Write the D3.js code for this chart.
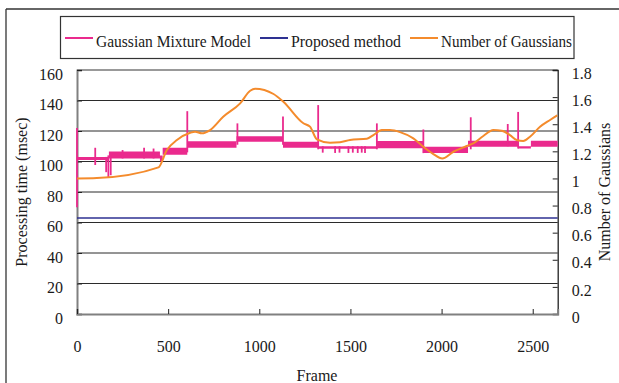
<!DOCTYPE html>
<html>
<head>
<meta charset="utf-8">
<script src="https://cdn.jsdelivr.net/npm/d3@7"></script>
<style>
  html, body { margin: 0; padding: 0; background: #fff; }
  svg { display: block; }
  text { font-family: "Liberation Serif", "Times New Roman", serif; fill: #1a1a1a; }
</style>
</head>
<body>
<svg id="chart" width="619" height="383"></svg>
<script>
// ---------------- data ----------------
const frameMax = 2637;
const xTicks = [0, 500, 1000, 1500, 2000, 2500];
const leftTicks = [0, 20, 40, 60, 80, 100, 120, 140, 160];
const rightTicks = [0, 0.2, 0.4, 0.6, 0.8, 1, 1.2, 1.4, 1.6, 1.8];
const rightTickLabels = ["0", "0.2", "0.4", "0.6", "0.8", "1", "1.2", "1.4", "1.6", "1.8"];

const seriesNames = ["Gaussian Mixture Model", "Proposed method", "Number of Gaussians"];

// Gaussian Mixture Model: processing-time band per block (start frame, min, max)
const gmmFrames = [0, 95, 160, 175, 455, 470, 605, 875, 1130, 1325, 1645, 1900, 2145, 2420, 2490];
const gmmLow    = [101, 101, 100.5, 102, 100, 104.5, 109, 113, 109, 108.3, 108.7, 105.5, 109.7, 108.5, 109.7];
const gmmHigh   = [103, 103, 103, 106.5, 104, 109, 113.3, 116.5, 113, 110, 113.5, 109.7, 113.6, 110, 113.6];
// Gaussian Mixture Model: isolated spikes / dips (frame, min, max)
const spikeFrames = [0, 100, 160, 172, 185, 250, 368, 420, 605, 880, 1130, 1323, 1348, 1416, 1440, 1489, 1513, 1540, 1562, 1580, 1645, 1900, 2160, 2363, 2420];
const spikeLow    = [70, 97.7, 93, 89.5, 91, 102, 102, 102, 106, 111, 111, 108, 105.8, 105.6, 105.8, 105.6, 105.8, 105.6, 105.8, 105.6, 108, 105.5, 108, 110, 108.5];
const spikeHigh   = [122, 109, 103, 104, 104, 107.5, 109, 108.5, 133, 125, 129.5, 137, 110, 110, 110, 110, 110, 110, 110, 110, 125, 121, 129, 124.6, 132.5];

// Proposed method (msec)
const pmFrames = [0, 2637];
const pmValues = [63, 63];

// Number of Gaussians (right axis)
const ngFrames = [0, 109, 447, 493, 548, 621, 648, 685, 730, 802, 895, 950, 977, 1078, 1132, 1242, 1278, 1316, 1388, 1443, 1498, 1590, 1626, 1672, 1717, 1772, 1845, 1900, 1955, 2004, 2065, 2138, 2174, 2229, 2284, 2330, 2375, 2412, 2448, 2485, 2540, 2595, 2635];
const ngValues = [1.0, 1.003, 1.082, 1.21, 1.283, 1.337, 1.345, 1.333, 1.357, 1.455, 1.554, 1.647, 1.662, 1.623, 1.566, 1.407, 1.382, 1.289, 1.264, 1.267, 1.284, 1.293, 1.32, 1.357, 1.357, 1.342, 1.296, 1.234, 1.18, 1.148, 1.197, 1.239, 1.259, 1.313, 1.357, 1.352, 1.32, 1.283, 1.276, 1.308, 1.381, 1.431, 1.465];

// ---------------- drawing ----------------
const colors = { gmm: "#EA2A8D", pm: "#2E3192", ng: "#F48B2C" };
const svg = d3.select("#chart");

const x = d3.scaleLinear().domain([0, frameMax]).range([77, 557.7]);
const yL = d3.scaleLinear().domain([0, 160]).range([314, 70]);
const yR = d3.scaleLinear().domain([0, 1.8]).range([314, 70]);

// outer frame (top and left edges visible)
svg.append("line").attr("x1", 6).attr("x2", 619).attr("y1", 9).attr("y2", 9)
  .attr("stroke", "#333").attr("stroke-width", 1.3);
svg.append("line").attr("x1", 6).attr("x2", 6).attr("y1", 9).attr("y2", 383)
  .attr("stroke", "#333").attr("stroke-width", 1.3);

// gridlines
svg.append("g").selectAll("line").data(leftTicks.filter(d => d > 0)).join("line")
  .attr("x1", x(0)).attr("x2", x(frameMax))
  .attr("y1", d => yL(d)).attr("y2", d => yL(d))
  .attr("stroke", d => d === 160 ? "#777" : "#2b2b2b")
  .attr("stroke-width", d => d === 160 ? 1.6 : 1);

// left axis
const gL = svg.append("g").attr("transform", `translate(${x(0)},0)`)
  .call(d3.axisLeft(yL).tickValues(leftTicks).tickSize(-5).tickPadding(14).tickFormat(d3.format("d")));
gL.select(".domain").attr("stroke", "#808080").attr("stroke-width", 2);
gL.selectAll(".tick line").attr("stroke", "#222");
gL.selectAll("text").attr("font-size", 16).attr("y", 4).style("font-family", "Liberation Serif, serif").attr("fill", "#1a1a1a");

// right axis
const gR = svg.append("g").attr("transform", `translate(${x(frameMax)},0)`)
  .call(d3.axisRight(yR).tickValues(rightTicks).tickSize(-5).tickPadding(14).tickFormat((d, i) => rightTickLabels[i]));
gR.select(".domain").attr("stroke", "#222").attr("stroke-width", 1.3);
gR.selectAll(".tick line").attr("stroke", "#222");
gR.selectAll("text").attr("font-size", 16).attr("y", 3).style("font-family", "Liberation Serif, serif").attr("fill", "#1a1a1a");

// bottom axis
const gB = svg.append("g").attr("transform", `translate(0,${yL(0)})`)
  .call(d3.axisBottom(x).tickValues(xTicks).tickSize(-5).tickPadding(27).tickFormat(d3.format("d")));
gB.select(".domain").attr("stroke", "#808080").attr("stroke-width", 2);
gB.selectAll(".tick line").attr("stroke", "#222");
gB.selectAll("text").attr("font-size", 16).style("font-family", "Liberation Serif, serif").attr("fill", "#1a1a1a");

// axis titles
svg.append("text").attr("x", 317).attr("y", 381).attr("text-anchor", "middle")
  .attr("font-size", 16).text("Frame");
svg.append("text").attr("transform", "translate(27,192) rotate(-90)").attr("text-anchor", "middle")
  .attr("font-size", 16).text("Processing time (msec)");
svg.append("text").attr("transform", "translate(610,192) rotate(-90)").attr("text-anchor", "middle")
  .attr("font-size", 16).text("Number of Gaussians");

// GMM band
const gmmPts = gmmFrames.map((f, i) => ({ f, lo: gmmLow[i], hi: gmmHigh[i] }));
gmmPts.push({ f: frameMax, lo: gmmLow[gmmLow.length - 1], hi: gmmHigh[gmmHigh.length - 1] });
svg.append("path").datum(gmmPts)
  .attr("d", d3.area().curve(d3.curveStepAfter).x(d => x(d.f)).y0(d => yL(d.lo)).y1(d => yL(d.hi)))
  .attr("fill", colors.gmm);
// GMM spikes
svg.append("g").selectAll("line").data(spikeFrames).join("line")
  .attr("x1", d => x(d)).attr("x2", d => x(d))
  .attr("y1", (d, i) => yL(spikeLow[i])).attr("y2", (d, i) => yL(spikeHigh[i]))
  .attr("stroke", colors.gmm).attr("stroke-width", 1.8);

// Proposed method
svg.append("path").datum(pmFrames.map((f, i) => [f, pmValues[i]]))
  .attr("d", d3.line().x(d => x(d[0])).y(d => yL(d[1])))
  .attr("fill", "none").attr("stroke", colors.pm).attr("stroke-width", 1.6);

// Number of Gaussians
svg.append("path").datum(ngFrames.map((f, i) => [f, ngValues[i]]))
  .attr("d", d3.line().curve(d3.curveMonotoneX).x(d => x(d[0])).y(d => yR(d[1])))
  .attr("fill", "none").attr("stroke", colors.ng).attr("stroke-width", 2);

// legend
svg.append("rect").attr("x", 60.5).attr("y", 16.5).attr("width", 513.5).attr("height", 42)
  .attr("fill", "#fff").attr("stroke", "#333").attr("stroke-width", 1.2);
const legendItems = [
  { name: seriesNames[0], color: colors.gmm, lx: 65, tx: 96, tw: 155 },
  { name: seriesNames[1], color: colors.pm, lx: 260, tx: 291, tw: 110 },
  { name: seriesNames[2], color: colors.ng, lx: 410, tx: 441, tw: 131 }
];
const lg = svg.append("g").selectAll("g").data(legendItems).join("g");
lg.append("line").attr("x1", d => d.lx).attr("x2", d => d.lx + 28).attr("y1", 38).attr("y2", 38)
  .attr("stroke", d => d.color).attr("stroke-width", 2);
lg.append("text").attr("x", d => d.tx).attr("y", 47).attr("font-size", 16)
  .attr("textLength", d => d.tw).attr("lengthAdjust", "spacingAndGlyphs").text(d => d.name);
</script>
</body>
</html>
